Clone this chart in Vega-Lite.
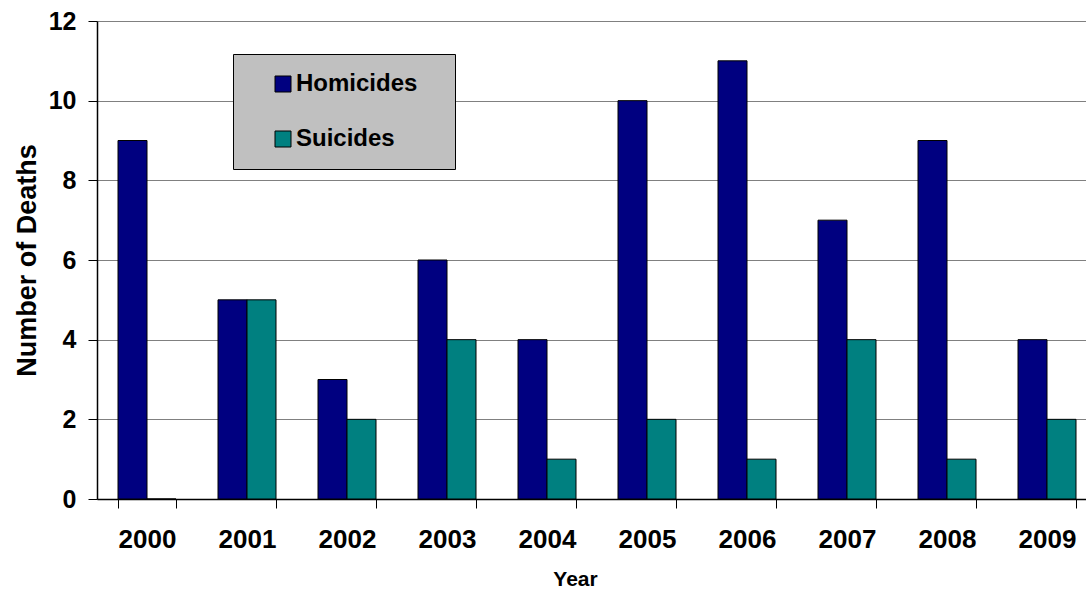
{
  "$schema": "https://vega.github.io/schema/vega-lite/v6.json",
  "autosize": "none",
  "width": 1000,
  "height": 478,
  "padding": {"left": 97, "top": 21, "right": 0, "bottom": 90},
  "background": "white",
  "data": {
    "values": [
      {"year": "2000", "type": "Homicides", "deaths": 9},
      {"year": "2000", "type": "Suicides", "deaths": 0},
      {"year": "2001", "type": "Homicides", "deaths": 5},
      {"year": "2001", "type": "Suicides", "deaths": 5},
      {"year": "2002", "type": "Homicides", "deaths": 3},
      {"year": "2002", "type": "Suicides", "deaths": 2},
      {"year": "2003", "type": "Homicides", "deaths": 6},
      {"year": "2003", "type": "Suicides", "deaths": 4},
      {"year": "2004", "type": "Homicides", "deaths": 4},
      {"year": "2004", "type": "Suicides", "deaths": 1},
      {"year": "2005", "type": "Homicides", "deaths": 10},
      {"year": "2005", "type": "Suicides", "deaths": 2},
      {"year": "2006", "type": "Homicides", "deaths": 11},
      {"year": "2006", "type": "Suicides", "deaths": 1},
      {"year": "2007", "type": "Homicides", "deaths": 7},
      {"year": "2007", "type": "Suicides", "deaths": 4},
      {"year": "2008", "type": "Homicides", "deaths": 9},
      {"year": "2008", "type": "Suicides", "deaths": 1},
      {"year": "2009", "type": "Homicides", "deaths": 4},
      {"year": "2009", "type": "Suicides", "deaths": 2}
    ]
  },
  "mark": {"type": "bar", "stroke": "black", "strokeWidth": 1},
  "encoding": {
    "x": {
      "field": "year",
      "type": "ordinal",
      "scale": {"paddingInner": 0.42, "paddingOuter": 0.21},
      "axis": {
        "title": "Year",
        "labelAngle": 0,
        "tickBand": "extent",
        "tickSize": 9,
        "tickColor": "black",
        "domainColor": "black",
        "domainWidth": 1.5,
        "labelFont": "Liberation Sans",
        "labelFontWeight": "bold",
        "labelFontSize": 26,
        "labelColor": "black",
        "labelPadding": 18,
        "titleFont": "Liberation Sans",
        "titleFontWeight": "bold",
        "titleFontSize": 21,
        "titleColor": "black",
        "titlePadding": 16,
        "titleX": 478,
        "grid": false
      }
    },
    "xOffset": {"field": "type", "type": "nominal", "sort": ["Homicides", "Suicides"]},
    "y": {
      "field": "deaths",
      "type": "quantitative",
      "scale": {"domain": [0, 12], "nice": false},
      "axis": {
        "title": "Number of Deaths",
        "values": [0, 2, 4, 6, 8, 10, 12],
        "tickSize": 9,
        "tickColor": "black",
        "domainColor": "black",
        "domainWidth": 1.5,
        "grid": true,
        "gridColor": "#808080",
        "gridWidth": 1,
        "labelFont": "Liberation Sans",
        "labelFontWeight": "bold",
        "labelFontSize": 25,
        "labelColor": "black",
        "labelPadding": 12,
        "titleFont": "Liberation Sans",
        "titleFontWeight": "bold",
        "titleFontSize": 27,
        "titleColor": "black",
        "titlePadding": 7
      }
    },
    "color": {
      "field": "type",
      "type": "nominal",
      "scale": {"domain": ["Homicides", "Suicides"], "range": ["#000080", "#008080"]},
      "legend": {
        "title": ".",
        "titleOrient": "right",
        "titleColor": "#C0C0C0",
        "titleFontSize": 12,
        "titlePadding": 16,
        "orient": "none",
        "legendX": 136,
        "legendY": 33,
        "fillColor": "#C0C0C0",
        "strokeColor": "black",
        "padding": 18,
        "symbolOffset": 20,
        "symbolType": "square",
        "symbolSize": 256,
        "symbolStrokeColor": "black",
        "symbolStrokeWidth": 1,
        "symbolOpacity": 1,
        "labelFont": "Liberation Sans",
        "labelFontWeight": "bold",
        "labelFontSize": 24,
        "labelColor": "black",
        "labelOffset": 1,
        "rowPadding": 31
      }
    }
  },
  "config": {"view": {"stroke": null}}
}
